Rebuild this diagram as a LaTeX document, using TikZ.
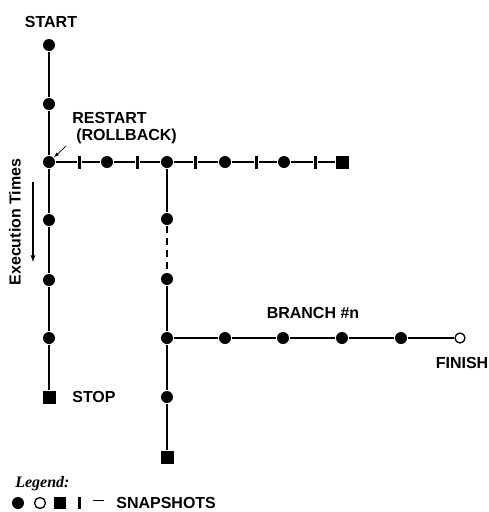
\documentclass[tikz,border=0pt]{standalone}
\usepackage{fontspec}
\setmainfont{Liberation Sans}
\newfontfamily\legendfont{Liberation Serif}
\usepackage{xcolor}

\begin{document}
\begin{tikzpicture}[x=1pt,y=-1pt,font=\fontsize{16}{18}\selectfont\bfseries,
  line width=2pt,
  snapdot/.style={circle,fill=black,inner sep=0pt,minimum size=12pt},
  opendot/.style={circle,draw=black,fill=white,line width=1.3pt,inner sep=0pt,minimum size=10pt},
  snapsq/.style={rectangle,fill=black,inner sep=0pt,minimum size=13pt},
  snapbar/.style={rectangle,fill=black,inner sep=0pt,minimum width=3pt,minimum height=13pt}]
  \useasboundingbox (0,0) rectangle (489,512);
  % main run
  \node[snapdot] (m1) at (49,45) {};
  \node[snapdot] (m2) at (49,104) {};
  \node[snapdot] (m3) at (49,162) {};
  \node[snapdot] (m4) at (49,220) {};
  \node[snapdot] (m5) at (49,280) {};
  \node[snapdot] (m6) at (49,338) {};
  \node[snapsq]  (m7) at (49,397) {};
  \draw (m1) -- (m2) -- (m3) -- (m4) -- (m5) -- (m6) -- (m7);
  \node at (51,22) {START};
  \node[anchor=west] at (68,397) {STOP};
  % rollback branch
  \node[snapbar] (r1) at (79,162) {};
  \node[snapdot] (r2) at (107,162) {};
  \node[snapbar] (r3) at (137,162) {};
  \node[snapdot] (r4) at (167,162) {};
  \node[snapbar] (r5) at (195,162) {};
  \node[snapdot] (r6) at (225,162) {};
  \node[snapbar] (r7) at (256,162) {};
  \node[snapdot] (r8) at (284,162) {};
  \node[snapbar] (r9) at (315,162) {};
  \node[snapsq]  (r10) at (342,162) {};
  \draw (m3) -- (r1) -- (r2) -- (r3) -- (r4) -- (r5) -- (r6) -- (r7) -- (r8) -- (r9) -- (r10);
  \node[anchor=west] at (68,118) {RESTART};
  \node[anchor=west] at (72,136) {(ROLLBACK)};
  \coordinate (rarrow) at (66,146);
  \draw[-latex,line width=0.7pt] (rarrow) -- (m3);
  % second branch
  \node[snapdot] (b1) at (167,219) {};
  \node[snapdot] (b2) at (167,279) {};
  \node[snapdot] (b3) at (167,338) {};
  \node[snapdot] (b4) at (167,397) {};
  \node[snapsq]  (b5) at (167,457) {};
  \draw (r4) -- (b1);
  \draw[dash pattern=on 7pt off 5pt] (b1) -- (b2);
  \draw (b2) -- (b3) -- (b4) -- (b5);
  % branch #n
  \node[snapdot] (n1) at (225,338) {};
  \node[snapdot] (n2) at (283,338) {};
  \node[snapdot] (n3) at (342,338) {};
  \node[snapdot] (n4) at (401,338) {};
  \node[opendot] (n5) at (460,338) {};
  \draw (b3) -- (n1) -- (n2) -- (n3) -- (n4) -- (n5);
  \node at (313,313) {BRANCH \#n};
  \node at (462,363) {FINISH};
  % time axis
  \node[rotate=90] at (15,222) {Execution Times};
  \coordinate (t0) at (33,182);
  \coordinate (t1) at (33,262);
  \draw[-latex,line width=1.3pt] (t0) -- (t1);
  % legend
  \node[anchor=west,font=\fontsize{16}{18}\selectfont\legendfont\bfseries\itshape] at (11,484) {Legend:};
  \node[snapdot] (l1) at (18,503) {};
  \node[opendot,minimum size=11pt] (l2) at (40,503) {};
  \node[snapsq,minimum size=12pt] (l3) at (60,503) {};
  \node[snapbar,minimum height=12pt] (l4) at (79,503) {};
  \node[rectangle,fill=black,inner sep=0pt,minimum width=11pt,minimum height=1pt] (l5) at (98,500) {};
  \node[anchor=west] at (112,503) {SNAPSHOTS};
\end{tikzpicture}
\end{document}
